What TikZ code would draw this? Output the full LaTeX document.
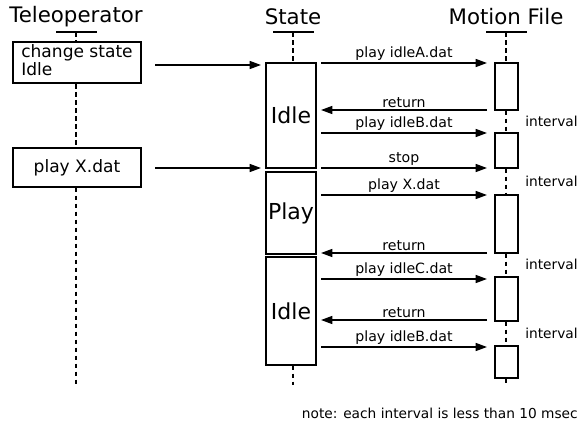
\documentclass[tikz,border=0pt]{standalone}
\usepackage{fontspec}
\setmainfont{DejaVu Sans}
\usetikzlibrary{arrows.meta}
\begin{document}
\begin{tikzpicture}[x=0.75pt,y=-0.75pt,
  lifeline/.style={line width=1pt,dash pattern=on 3.5pt off 2.5pt},
  msg/.style={line width=1pt,-{Triangle[length=8.5pt,width=6pt]}},
  lbl/.style={font=\fontsize{10.6}{11}\selectfont,above,inner sep=1.2pt},
  title/.style={font=\fontsize{16}{17}\selectfont,inner sep=0pt},
  note/.style={font=\fontsize{10.3}{11}\selectfont,inner sep=0pt},
  tbox/.style={draw,line width=1.1pt,minimum width=96pt,inner sep=0pt,font=\fontsize{12.8}{13}\selectfont},
  sbox/.style={draw,line width=1.1pt,minimum width=37.5pt,inner sep=0pt,font=\fontsize{16.5}{17}\selectfont},
  mbox/.style={draw,line width=1.1pt,minimum width=17.25pt,inner sep=0pt}]
\useasboundingbox (0,0) rectangle (583,425);

% column headers
\node[title] (tTel) at (76,17) {Teleoperator};
\node[title] (tSt) at (293,17) {State};
\node[title] (tMF) at (506,17) {Motion File};
\draw[line width=1pt] (56,32) -- (97,32) (273,32) -- (314,32) (486,32) -- (527,32);
\coordinate (hTel) at (76,32);
\coordinate (hSt) at (293,32);
\coordinate (hMF) at (506,32);

% teleoperator boxes
\node[tbox,minimum height=31pt] (cs) at (77,62.5) {};
\node[anchor=north west,align=left,inner sep=0pt,font=\fontsize{12.8}{10.5}\selectfont] (csTxt) at (21,44.5) {change state\\Idle};
\node[tbox,minimum height=29pt] (px) at (77,167.5) {play X.dat};

% state boxes
\node[sbox,minimum height=78.75pt] (idle1) at (291,115.5) {Idle};
\node[sbox,minimum height=61.5pt] (play) at (291,213) {Play};
\node[sbox,minimum height=81pt] (idle2) at (291,311) {Idle};

% motion file boxes
\node[mbox,minimum height=35.25pt] (m1) at (506.5,86.5) {};
\node[mbox,minimum height=26.25pt] (m2) at (506.5,150.5) {};
\node[mbox,minimum height=43.5pt] (m3) at (506.5,224) {};
\node[mbox,minimum height=33pt] (m4) at (506.5,299) {};
\node[mbox,minimum height=24pt] (m5) at (506.5,362) {};

% lifelines
\coordinate (eTel) at (76,385);
\coordinate (eSt) at (293,385);
\coordinate (eMF) at (506,385);
\draw[lifeline] (hTel) -- (cs.north -| hTel);
\draw[lifeline] (cs.south -| hTel) -- (px.north -| hTel);
\draw[lifeline] (px.south -| hTel) -- (eTel);
\draw[lifeline] (hSt) -- (idle1.north -| hSt);
\draw[lifeline] (idle2.south -| hSt) -- (eSt);
\draw[lifeline] (hMF) -- (m1.north -| hMF);
\draw[lifeline] (m1.south -| hMF) -- (m2.north -| hMF);
\draw[lifeline] (m2.south -| hMF) -- (m3.north -| hMF);
\draw[lifeline] (m3.south -| hMF) -- (m4.north -| hMF);
\draw[lifeline] (m4.south -| hMF) -- (m5.north -| hMF);
\draw[lifeline] (m5.south -| hMF) -- (eMF);

% teleoperator -> state
\coordinate (a1s) at (155,65);
\coordinate (a1e) at (261,65);
\coordinate (a2s) at (155,168);
\coordinate (a2e) at (261,168);
\draw[msg] (a1s) -- (a1e);
\draw[msg] (a2s) -- (a2e);

% state <-> motion file
\coordinate (L1) at (321,63);  \coordinate (R1) at (487,63);
\coordinate (L2) at (321,110); \coordinate (R2) at (487,110);
\coordinate (L3) at (321,133); \coordinate (R3) at (487,133);
\coordinate (L4) at (321,168); \coordinate (R4) at (487,168);
\coordinate (L5) at (321,195); \coordinate (R5) at (487,195);
\coordinate (L6) at (321,253); \coordinate (R6) at (487,253);
\coordinate (L7) at (321,279); \coordinate (R7) at (487,279);
\coordinate (L8) at (321,320); \coordinate (R8) at (487,320);
\coordinate (L9) at (321,347); \coordinate (R9) at (487,347);
\draw[msg] (L1) -- node[lbl] {play idleA.dat} (R1);
\draw[msg] (R2) -- node[lbl] {return} (L2);
\draw[msg] (L3) -- node[lbl] {play idleB.dat} (R3);
\draw[msg] (L4) -- node[lbl] {stop} (R4);
\draw[msg] (L5) -- node[lbl] {play X.dat} (R5);
\draw[msg] (R6) -- node[lbl] {return} (L6);
\draw[msg] (L7) -- node[lbl] {play idleC.dat} (R7);
\draw[msg] (R8) -- node[lbl] {return} (L8);
\draw[msg] (L9) -- node[lbl] {play idleB.dat} (R9);

% interval labels
\node[note,anchor=west] (i1) at (525,121) {interval};
\node[note,anchor=west] (i2) at (525,181) {interval};
\node[note,anchor=west] (i3) at (525,264) {interval};
\node[note,anchor=west] (i4) at (525,333) {interval};

% footnote
\node[note,anchor=east] (nt) at (578,413) {note: each interval is less than 10 msec};
\end{tikzpicture}
\end{document}
